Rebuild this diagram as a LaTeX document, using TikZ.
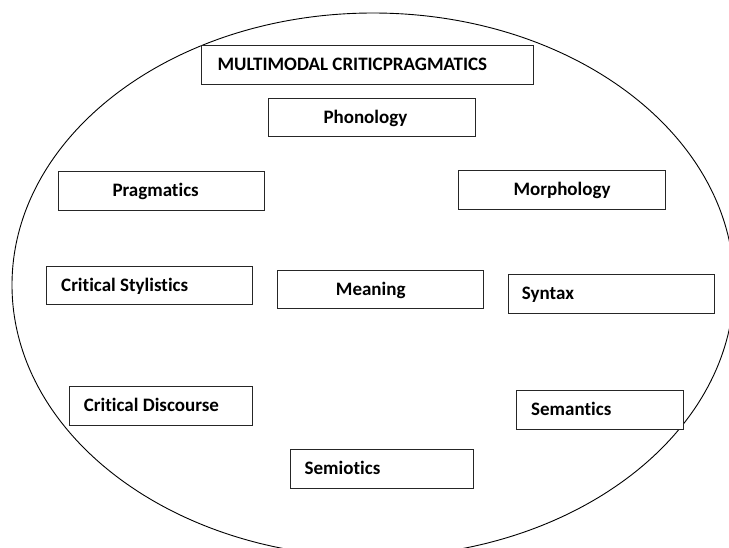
\documentclass[tikz,border=0pt]{standalone}
\usepackage{fontspec}
\setmainfont[Ligatures={NoCommon}]{Carlito}
\begin{document}
\begin{tikzpicture}[x=1pt,y=-1pt,
  boxst/.style={draw=black!85,line width=1.1pt,fill=white,inner sep=0pt,anchor=north west},
  txt/.style={anchor=base west,inner sep=0pt,font=\fontsize{19}{21}\selectfont\bfseries}]
\useasboundingbox (0,0) rectangle (729,547);
\clip (0,0) rectangle (729,547);
\fill[white] (0,0) rectangle (729,547);
\draw[line width=0.9pt] (373,285) ellipse [x radius=361,y radius=272];
% boxes: name, x1, y1, x2, y2, text start, text
\newcommand\mybox[7]{%
  \node[boxst,minimum width=#4-#2,minimum height=#5-#3] (#1) at (#2,#3) {};
  \node[txt] (#1-t) at (#6,{(#3+#5)/2+6.3}) {#7};}
\mybox{mcp}{201}{45}{533}{84}{217.3}{MULTIMODAL CRITICPRAGMATICS}
\mybox{pho}{268}{98}{475}{136}{323.3}{Phonology}
\mybox{pra}{58}{171}{264}{210}{112.3}{Pragmatics}
\mybox{mor}{458}{170}{665}{209}{513.3}{Morphology}
\mybox{cst}{46}{266}{252}{304}{61}{Critical Stylistics}
\mybox{mea}{277}{270}{483}{308}{335.7}{Meaning}
\mybox{syn}{508}{274}{714}{312.5}{521.7}{Syntax}
\mybox{cdi}{69}{386}{252}{424.5}{83.7}{Critical Discourse}
\mybox{sman}{516}{390}{683}{428.7}{531}{Semantics}
\mybox{smio}{290}{449}{473}{487.6}{304.5}{Semiotics}
\end{tikzpicture}
\end{document}
